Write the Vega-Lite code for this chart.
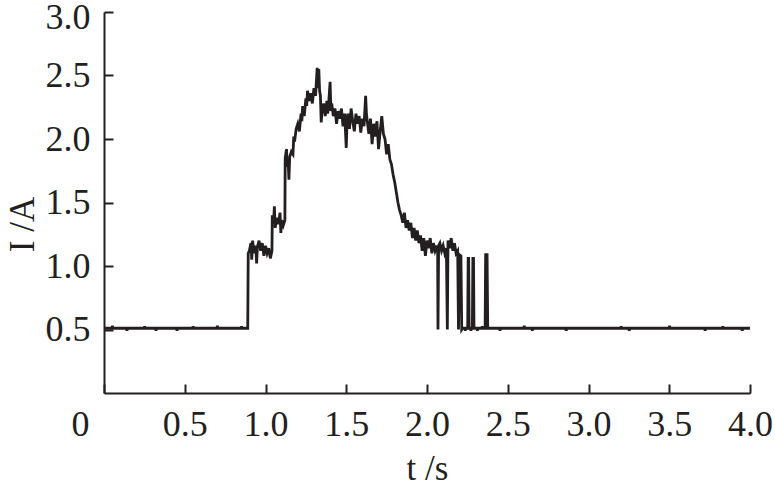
{
  "$schema": "https://vega.github.io/schema/vega-lite/v6.json",
  "width": 646,
  "height": 381,
  "autosize": {"type": "none"},
  "padding": {"left": 104, "top": 12, "right": 25, "bottom": 95},
  "background": "white",
  "config": {
    "view": {"stroke": null},
    "font": "Liberation Serif",
    "axis": {
      "grid": false,
      "labelFlush": false,
      "domainColor": "#231f20",
      "domainWidth": 2,
      "tickColor": "#231f20",
      "tickWidth": 2,
      "tickSize": -9,
      "labelFont": "Liberation Serif",
      "labelFontSize": 36,
      "labelColor": "#231f20",
      "titleFont": "Liberation Serif",
      "titleFontSize": 35,
      "titleFontWeight": "normal",
      "titleColor": "#231f20"
    }
  },
  "data": {
    "values": [
      {"t": 0.00, "I": 0.51}, {"t": 0.05, "I": 0.51}, {"t": 0.052, "I": 0.53}, {"t": 0.055, "I": 0.51},
      {"t": 0.14, "I": 0.51}, {"t": 0.142, "I": 0.49}, {"t": 0.145, "I": 0.51},
      {"t": 0.25, "I": 0.51}, {"t": 0.252, "I": 0.525}, {"t": 0.255, "I": 0.51},
      {"t": 0.32, "I": 0.51}, {"t": 0.322, "I": 0.49}, {"t": 0.325, "I": 0.51},
      {"t": 0.45, "I": 0.51}, {"t": 0.452, "I": 0.49}, {"t": 0.455, "I": 0.51},
      {"t": 0.55, "I": 0.51}, {"t": 0.552, "I": 0.525}, {"t": 0.555, "I": 0.51},
      {"t": 0.70, "I": 0.51}, {"t": 0.702, "I": 0.53}, {"t": 0.705, "I": 0.51},
      {"t": 0.85, "I": 0.51}, {"t": 0.852, "I": 0.525}, {"t": 0.855, "I": 0.51},
      {"t": 0.89, "I": 0.51},
      {"t": 0.893, "I": 1.10}, {"t": 0.90, "I": 1.12}, {"t": 0.91, "I": 1.18}, {"t": 0.915, "I": 1.05},
      {"t": 0.92, "I": 1.20}, {"t": 0.93, "I": 1.10}, {"t": 0.94, "I": 1.16}, {"t": 0.945, "I": 1.02},
      {"t": 0.95, "I": 1.15}, {"t": 0.96, "I": 1.20}, {"t": 0.97, "I": 1.12}, {"t": 0.98, "I": 1.18},
      {"t": 0.99, "I": 1.08}, {"t": 1.00, "I": 1.16}, {"t": 1.01, "I": 1.10}, {"t": 1.02, "I": 1.14},
      {"t": 1.03, "I": 1.06}, {"t": 1.04, "I": 1.12},
      {"t": 1.042, "I": 1.40}, {"t": 1.05, "I": 1.35}, {"t": 1.055, "I": 1.47}, {"t": 1.06, "I": 1.30},
      {"t": 1.07, "I": 1.38}, {"t": 1.08, "I": 1.33}, {"t": 1.09, "I": 1.42}, {"t": 1.095, "I": 1.26},
      {"t": 1.10, "I": 1.36}, {"t": 1.11, "I": 1.32}, {"t": 1.12, "I": 1.36},
      {"t": 1.122, "I": 1.85}, {"t": 1.13, "I": 1.92}, {"t": 1.135, "I": 1.78}, {"t": 1.14, "I": 1.84},
      {"t": 1.145, "I": 1.68}, {"t": 1.15, "I": 1.86}, {"t": 1.16, "I": 1.90}, {"t": 1.17, "I": 1.88},
      {"t": 1.175, "I": 2.02}, {"t": 1.18, "I": 1.98}, {"t": 1.19, "I": 2.08}, {"t": 1.20, "I": 2.12},
      {"t": 1.21, "I": 2.06}, {"t": 1.22, "I": 2.20}, {"t": 1.225, "I": 2.14}, {"t": 1.23, "I": 2.26},
      {"t": 1.24, "I": 2.18}, {"t": 1.25, "I": 2.32}, {"t": 1.255, "I": 2.26}, {"t": 1.26, "I": 2.38},
      {"t": 1.27, "I": 2.30}, {"t": 1.28, "I": 2.36}, {"t": 1.29, "I": 2.28}, {"t": 1.30, "I": 2.40},
      {"t": 1.31, "I": 2.34}, {"t": 1.32, "I": 2.56}, {"t": 1.325, "I": 2.40}, {"t": 1.33, "I": 2.55},
      {"t": 1.335, "I": 2.38}, {"t": 1.34, "I": 2.34}, {"t": 1.345, "I": 2.13}, {"t": 1.35, "I": 2.22},
      {"t": 1.36, "I": 2.28}, {"t": 1.37, "I": 2.18}, {"t": 1.38, "I": 2.30}, {"t": 1.385, "I": 2.20},
      {"t": 1.39, "I": 2.26}, {"t": 1.40, "I": 2.45}, {"t": 1.405, "I": 2.22}, {"t": 1.41, "I": 2.28},
      {"t": 1.42, "I": 2.18}, {"t": 1.43, "I": 2.24}, {"t": 1.44, "I": 2.12}, {"t": 1.45, "I": 2.22},
      {"t": 1.46, "I": 2.16}, {"t": 1.47, "I": 2.24}, {"t": 1.48, "I": 2.10}, {"t": 1.49, "I": 2.20},
      {"t": 1.50, "I": 1.93}, {"t": 1.505, "I": 2.14}, {"t": 1.51, "I": 2.20}, {"t": 1.52, "I": 2.08},
      {"t": 1.53, "I": 2.24}, {"t": 1.54, "I": 2.14}, {"t": 1.55, "I": 2.06}, {"t": 1.56, "I": 2.20},
      {"t": 1.57, "I": 2.12}, {"t": 1.58, "I": 2.18}, {"t": 1.59, "I": 2.05}, {"t": 1.60, "I": 2.16},
      {"t": 1.61, "I": 2.10}, {"t": 1.62, "I": 2.34}, {"t": 1.625, "I": 2.20}, {"t": 1.63, "I": 2.14},
      {"t": 1.64, "I": 2.04}, {"t": 1.65, "I": 2.16}, {"t": 1.66, "I": 1.96}, {"t": 1.67, "I": 2.12},
      {"t": 1.68, "I": 2.02}, {"t": 1.69, "I": 2.14}, {"t": 1.70, "I": 1.92}, {"t": 1.71, "I": 2.06},
      {"t": 1.72, "I": 2.18}, {"t": 1.73, "I": 2.04}, {"t": 1.74, "I": 2.00}, {"t": 1.75, "I": 1.88},
      {"t": 1.76, "I": 1.96}, {"t": 1.77, "I": 1.84}, {"t": 1.78, "I": 1.80}, {"t": 1.79, "I": 1.72},
      {"t": 1.80, "I": 1.66}, {"t": 1.81, "I": 1.58}, {"t": 1.82, "I": 1.50}, {"t": 1.83, "I": 1.44},
      {"t": 1.84, "I": 1.40}, {"t": 1.85, "I": 1.34}, {"t": 1.86, "I": 1.42}, {"t": 1.87, "I": 1.30},
      {"t": 1.88, "I": 1.36}, {"t": 1.89, "I": 1.28}, {"t": 1.90, "I": 1.34}, {"t": 1.91, "I": 1.22},
      {"t": 1.92, "I": 1.30}, {"t": 1.93, "I": 1.20}, {"t": 1.94, "I": 1.28}, {"t": 1.95, "I": 1.18},
      {"t": 1.96, "I": 1.24}, {"t": 1.97, "I": 1.12}, {"t": 1.98, "I": 1.22}, {"t": 1.99, "I": 1.08},
      {"t": 2.00, "I": 1.20}, {"t": 2.01, "I": 1.14}, {"t": 2.02, "I": 1.22}, {"t": 2.03, "I": 1.10},
      {"t": 2.04, "I": 1.18}, {"t": 2.05, "I": 1.12}, {"t": 2.06, "I": 1.16}, {"t": 2.066, "I": 1.12},
      {"t": 2.068, "I": 0.50}, {"t": 2.072, "I": 1.16}, {"t": 2.08, "I": 1.18}, {"t": 2.09, "I": 1.12},
      {"t": 2.10, "I": 1.16}, {"t": 2.11, "I": 1.10}, {"t": 2.12, "I": 1.14}, {"t": 2.126, "I": 0.50},
      {"t": 2.13, "I": 1.20}, {"t": 2.14, "I": 1.14}, {"t": 2.15, "I": 1.22}, {"t": 2.16, "I": 1.12},
      {"t": 2.17, "I": 1.18}, {"t": 2.18, "I": 1.10}, {"t": 2.19, "I": 1.12}, {"t": 2.195, "I": 0.50},
      {"t": 2.20, "I": 1.09}, {"t": 2.21, "I": 1.08}, {"t": 2.215, "I": 0.50}, {"t": 2.22, "I": 0.51},
      {"t": 2.235, "I": 0.51}, {"t": 2.237, "I": 0.49}, {"t": 2.24, "I": 0.51}, {"t": 2.252, "I": 0.51},
      {"t": 2.255, "I": 1.06}, {"t": 2.258, "I": 1.06}, {"t": 2.261, "I": 0.51}, {"t": 2.27, "I": 0.51},
      {"t": 2.272, "I": 0.49}, {"t": 2.275, "I": 0.51}, {"t": 2.281, "I": 0.51},
      {"t": 2.284, "I": 1.06}, {"t": 2.288, "I": 1.06}, {"t": 2.291, "I": 0.51}, {"t": 2.31, "I": 0.51},
      {"t": 2.312, "I": 0.49}, {"t": 2.315, "I": 0.51}, {"t": 2.34, "I": 0.51}, {"t": 2.342, "I": 0.525},
      {"t": 2.345, "I": 0.51}, {"t": 2.36, "I": 0.51}, {"t": 2.363, "I": 1.09}, {"t": 2.372, "I": 1.09},
      {"t": 2.376, "I": 0.51}, {"t": 2.39, "I": 0.51},
      {"t": 2.45, "I": 0.51}, {"t": 2.452, "I": 0.49}, {"t": 2.455, "I": 0.51},
      {"t": 2.60, "I": 0.51}, {"t": 2.602, "I": 0.53}, {"t": 2.605, "I": 0.51},
      {"t": 2.65, "I": 0.51}, {"t": 2.652, "I": 0.49}, {"t": 2.655, "I": 0.51},
      {"t": 2.86, "I": 0.51}, {"t": 2.862, "I": 0.49}, {"t": 2.865, "I": 0.51},
      {"t": 3.20, "I": 0.51}, {"t": 3.202, "I": 0.525}, {"t": 3.205, "I": 0.51},
      {"t": 3.25, "I": 0.51}, {"t": 3.252, "I": 0.49}, {"t": 3.255, "I": 0.51},
      {"t": 3.50, "I": 0.51}, {"t": 3.502, "I": 0.53}, {"t": 3.505, "I": 0.51},
      {"t": 3.72, "I": 0.51}, {"t": 3.722, "I": 0.49}, {"t": 3.725, "I": 0.51},
      {"t": 3.83, "I": 0.51}, {"t": 3.832, "I": 0.525}, {"t": 3.835, "I": 0.51},
      {"t": 3.95, "I": 0.51}, {"t": 3.952, "I": 0.49}, {"t": 3.955, "I": 0.51},
      {"t": 4.00, "I": 0.51}
    ]
  },
  "mark": {"type": "line", "color": "#231f20", "strokeWidth": 2.8, "interpolate": "linear"},
  "encoding": {
    "x": {
      "field": "t",
      "type": "quantitative",
      "scale": {"domain": [0, 4], "nice": false, "zero": false},
      "axis": {
        "values": [0, 0.5, 1, 1.5, 2, 2.5, 3, 3.5, 4],
        "labelExpr": "datum.value == 0 ? '0' : format(datum.value, '.1f')",
        "labelOffset": {"condition": {"test": "datum.value == 0", "value": -24}, "value": 0},
        "labelPadding": 23,
        "title": "t /s",
        "titleY": 75,
        "titleBaseline": "middle"
      }
    },
    "y": {
      "field": "I",
      "type": "quantitative",
      "scale": {"domain": [0, 3], "nice": false},
      "axis": {
        "values": [0.5, 1, 1.5, 2, 2.5, 3],
        "format": ".1f",
        "labelPadding": 23,
        "labelOffset": {"condition": {"test": "datum.value == 3", "value": 5}, "value": 0},
        "title": "I /A",
        "titleX": -82,
        "titleY": 212,
        "titleAngle": -90,
        "titleAlign": "center",
        "titleBaseline": "middle"
      }
    }
  }
}
